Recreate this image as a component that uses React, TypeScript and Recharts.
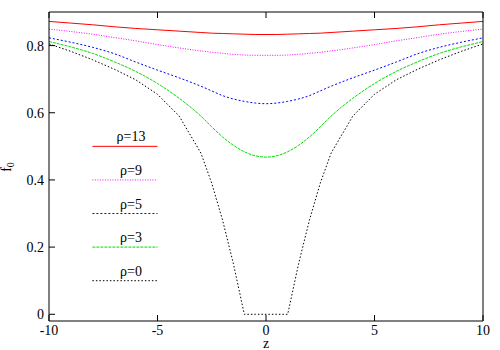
import { LineChart, Line, XAxis, YAxis, ReferenceLine } from "recharts";

const zs = [-10, -9, -8, -7, -6, -5, -4, -3, -2.5, -2, -1.5, -1, -0.5, 0, 0.5, 1, 1.5, 2, 2.5, 3, 4, 5, 6, 7, 8, 9, 10];

const rho13 = [0.872, 0.867, 0.862, 0.856, 0.851, 0.847, 0.843, 0.839, 0.837, 0.836, 0.835, 0.834, 0.833, 0.833, 0.833, 0.834, 0.835, 0.836, 0.837, 0.839, 0.843, 0.847, 0.851, 0.856, 0.862, 0.867, 0.872];
const rho9 = [0.849, 0.842, 0.834, 0.824, 0.814, 0.803, 0.793, 0.784, 0.78, 0.777, 0.774, 0.772, 0.771, 0.771, 0.771, 0.772, 0.774, 0.777, 0.78, 0.784, 0.793, 0.803, 0.814, 0.824, 0.834, 0.842, 0.849];
const rho5 = [0.823, 0.81, 0.795, 0.776, 0.751, 0.727, 0.704, 0.679, 0.665, 0.651, 0.641, 0.634, 0.629, 0.627, 0.629, 0.634, 0.641, 0.651, 0.665, 0.679, 0.704, 0.727, 0.751, 0.776, 0.795, 0.81, 0.823];
const rho3 = [0.812, 0.796, 0.777, 0.752, 0.723, 0.687, 0.643, 0.59, 0.558, 0.528, 0.503, 0.484, 0.472, 0.468, 0.472, 0.484, 0.503, 0.528, 0.558, 0.59, 0.643, 0.687, 0.723, 0.752, 0.777, 0.796, 0.812];
const rho0 = [0.805, 0.783, 0.758, 0.73, 0.698, 0.655, 0.59, 0.48, 0.39, 0.28, 0.15, 0, 0, 0, 0, 0, 0.15, 0.28, 0.39, 0.48, 0.59, 0.655, 0.698, 0.73, 0.758, 0.783, 0.805];

const xTicks = [-10, -5, 0, 5, 10];
const yTicks = [0, 0.2, 0.4, 0.6, 0.8];

const series = [
  { key: "r13", label: "ρ=13", values: rho13, color: "#ff0000", dash: undefined, key_y: 0.5, curve: "monotone" },
  { key: "r9", label: "ρ=9", values: rho9, color: "#ff00ff", dash: "1 1.5", key_y: 0.4, curve: "monotone" },
  { key: "r5", label: "ρ=5", values: rho5, color: "#0000ff", dash: "2 2", key_y: 0.3, curve: "monotone" },
  { key: "r3", label: "ρ=3", values: rho3, color: "#00dd00", dash: "3 1", key_y: 0.2, curve: "monotone" },
  { key: "r0", label: "ρ=0", values: rho0, color: "#000000", dash: "1.5 2", key_y: 0.1, curve: "linear" },
] as const;

const data = zs.map((z, i) => {
  const row: Record<string, number> = { z };
  series.forEach((s) => (row[s.key] = s.values[i]));
  return row;
});

const FONT = "Liberation Serif, Times New Roman, Times, Tinos, DejaVu Serif, serif";
const tickStyle = { fill: "#000", fontSize: 14, fontFamily: FONT };
const noTick = () => <g />;

const YLabel = () => (
  <text x={11} y={167} transform="rotate(-90 11 167)" textAnchor="middle" fontFamily={FONT} fontSize={14} fill="#000">
    f<tspan fontSize={10} dy={3}>0</tspan>
  </text>
);

export default function App() {
  return (
    <div style={{ position: "absolute", left: 0, top: 0, width: 500, height: 350, background: "#fff", fontFamily: FONT }}>
      <LineChart width={500} height={350} data={data} margin={{ top: 11, right: 16, bottom: 0, left: 0 }} style={{ fontFamily: FONT }}>
        <XAxis
          xAxisId="b" type="number" dataKey="z" domain={[-10, 10]} ticks={xTicks}
          height={29} tickSize={-6} tickMargin={10} tick={tickStyle}
          axisLine={{ stroke: "#000" }} tickLine={{ stroke: "#000" }}
          label={{ value: "z", position: "insideBottom", offset: 2, fill: "#000", fontSize: 14, fontFamily: FONT }}
        />
        <XAxis
          xAxisId="t" orientation="top" type="number" dataKey="z" domain={[-10, 10]} ticks={xTicks}
          height={1} tickSize={-6} tick={noTick} axisLine={{ stroke: "#000" }} tickLine={{ stroke: "#000" }}
        />
        <YAxis
          yAxisId="l" type="number" domain={[-0.02, 0.9]} ticks={yTicks} width={49}
          tickSize={-6} tickMargin={11} tick={tickStyle}
          tickFormatter={(v: number) => (v === 0 ? "0" : String(v))}
          axisLine={{ stroke: "#000" }} tickLine={{ stroke: "#000" }}
          label={<YLabel />}
        />
        <YAxis
          yAxisId="r" orientation="right" type="number" domain={[-0.02, 0.9]} ticks={yTicks} width={1}
          tickSize={-6} tick={noTick} axisLine={{ stroke: "#000" }} tickLine={{ stroke: "#000" }}
        />

        {series.map((s) => (
          <Line
            key={s.key} xAxisId="b" yAxisId="l" dataKey={s.key} type={s.curve}
            stroke={s.color} strokeWidth={1} strokeDasharray={s.dash}
            dot={false} activeDot={false} isAnimationActive={false}
          />
        ))}

        {/* key samples drawn inside the plot, gnuplot style */}
        {series.map((s) => (
          <ReferenceLine
            key={`key-${s.key}`} xAxisId="b" yAxisId="l"
            segment={[{ x: -8, y: s.key_y }, { x: -5, y: s.key_y }]}
            stroke={s.color} strokeWidth={1} strokeDasharray={s.dash}
            label={{ value: s.label, position: "top", offset: 5, dx: 6, fill: "#000", fontSize: 14, fontFamily: FONT }}
          />
        ))}
      </LineChart>
    </div>
  );
}
